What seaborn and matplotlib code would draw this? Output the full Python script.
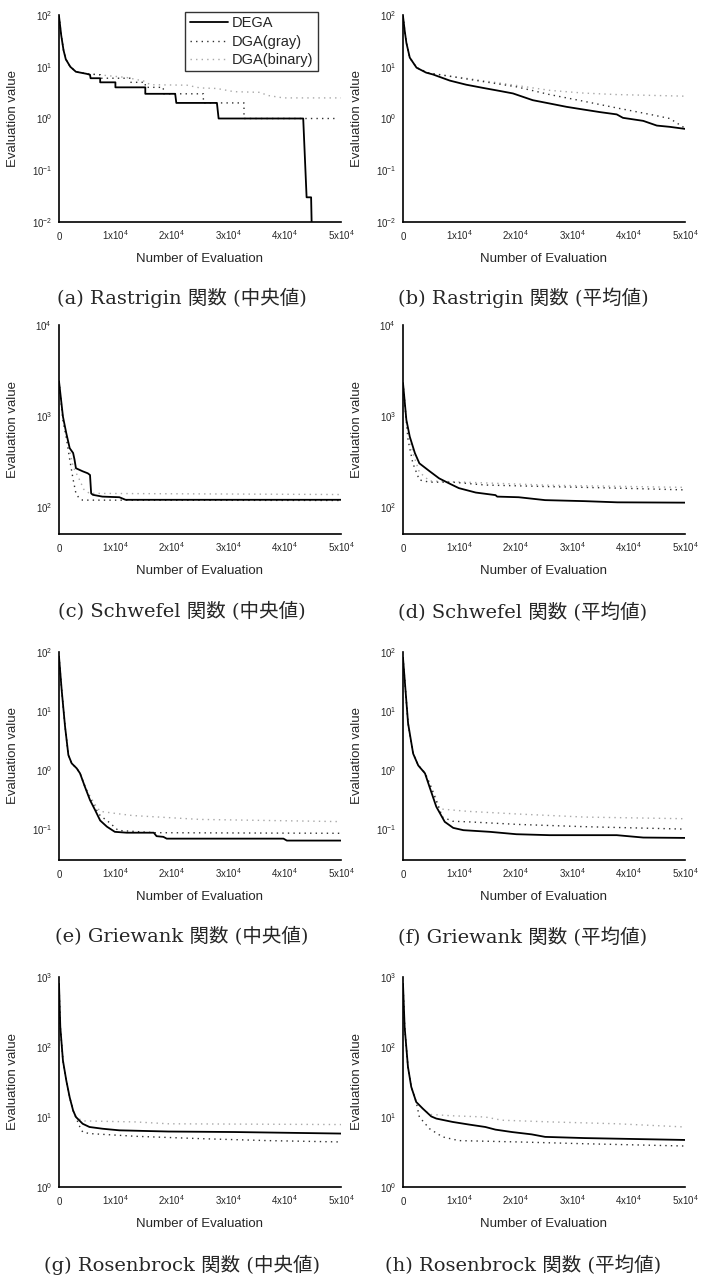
import numpy as np
import matplotlib
matplotlib.use("Agg")
import matplotlib.pyplot as plt
import matplotlib.ticker as mticker
import seaborn as sns

sns.set_style("white")
plt.rcParams['font.family'] = ['Liberation Sans', 'Noto Sans CJK JP']
plt.rcParams['mathtext.default'] = 'regular'
plt.rcParams['axes.unicode_minus'] = False

# (a) Rastrigin median
a_dega_x = [0, 400, 800, 1200, 2000, 3000, 4900, 5500, 5600, 7300, 7300, 10000, 10000, 15300, 15300,
            20600, 20800, 28000, 28300, 43300, 43900, 44200, 44700, 44800]
a_dega_y = [95, 40, 21, 14, 10, 8.0, 7.3, 7.0, 6.0, 6.0, 5.0, 5.0, 4.0, 4.0, 3.0,
            3.0, 2.0, 2.0, 1.0, 1.0, 0.03, 0.03, 0.03, 0.009]
a_gray_x = [0, 400, 800, 1200, 2000, 3000, 4900, 7300, 7300, 12600, 12600, 15300, 15300, 18500, 18500,
            25600, 25600, 32800, 32800, 49300]
a_gray_y = [95, 40, 21, 14, 10, 8.0, 7.3, 7.0, 6.0, 6.0, 5.0, 5.0, 4.0, 4.0, 3.0,
            3.0, 2.0, 2.0, 1.0, 1.0]
a_bin_x = [0, 400, 800, 1200, 2000, 3000, 4900, 7000, 12000, 15000, 16200, 22700, 25000, 28000,
           31000, 35700, 36900, 39800, 50000]
a_bin_y = [95, 40, 21, 14, 10, 8.0, 7.3, 7.0, 6.2, 5.3, 4.5, 4.4, 3.9, 3.8,
           3.3, 3.2, 2.8, 2.5, 2.5]

# (b) Rastrigin mean
b_dega_x = [0, 300, 600, 1200, 2400, 4100, 5300, 8300, 11200, 14200, 17200, 19500, 23000, 26000,
            29000, 32000, 34900, 37900, 39000, 42600, 45000, 47300, 50000]
b_dega_y = [95, 50, 29, 15, 9.6, 7.7, 7.1, 5.4, 4.5, 3.9, 3.4, 3.05, 2.26, 1.95,
            1.68, 1.49, 1.33, 1.2, 1.03, 0.9, 0.73, 0.69, 0.63]
b_gray_x = [0, 300, 600, 1200, 2400, 4500, 20100, 26000, 32000, 37900, 43800, 47300, 50000]
b_gray_y = [95, 50, 29, 15, 9.6, 7.6, 4.1, 2.9, 2.16, 1.6, 1.2, 1.0, 0.65]
b_bin_x = [0, 300, 600, 1200, 2400, 4500, 20100, 26000, 32000, 37900, 50000]
b_bin_y = [95, 50, 29, 15, 9.6, 7.6, 4.35, 3.5, 3.1, 2.9, 2.7]

# (c) Schwefel median
c_dega_x = [0, 700, 1300, 1900, 2500, 2750, 3000, 4200, 5100, 5500, 5700, 6000, 7700, 10700, 11800, 50000]
c_dega_y = [2400, 980, 640, 440, 390, 330, 265, 245, 233, 223, 140, 135, 129, 127, 119, 119]
c_gray_x = [0, 700, 1300, 1900, 2500, 3000, 3600, 4200, 50000]
c_gray_y = [2400, 900, 570, 330, 200, 140, 123, 118, 117]
c_bin_x = [0, 700, 1300, 1900, 2500, 3600, 4400, 5400, 50000]
c_bin_y = [2400, 900, 600, 420, 275, 200, 155, 140, 136]

# (d) Schwefel mean
d_dega_x = [0, 600, 1200, 2100, 2900, 4700, 6400, 8200, 9900, 12900, 16400, 16700, 20500, 25200,
            32200, 38000, 50000]
d_dega_y = [2300, 900, 590, 390, 300, 246, 205, 180, 160, 143, 134, 129, 127, 118,
            115, 111.6, 110.7]
d_gray_x = [0, 600, 900, 1750, 2900, 4700, 8800, 14600, 26300, 38000, 50000]
d_gray_y = [2300, 850, 540, 300, 197, 186, 186, 173, 166, 160, 153]
d_bin_x = [0, 600, 1200, 1750, 2900, 4700, 8800, 26300, 50000]
d_bin_y = [2300, 880, 560, 390, 240, 192, 188, 172, 163]

# (e) Griewank median
e_dega_x = [0, 470, 1070, 1660, 2250, 3140, 3730, 4600, 5500, 6400, 7300, 8500, 9900, 12000,
            16800, 17300, 18500, 19100, 39800, 40400, 50000]
e_dega_y = [84, 23, 5.5, 1.8, 1.3, 1.07, 0.88, 0.52, 0.31, 0.21, 0.14, 0.11, 0.09, 0.087,
            0.087, 0.076, 0.074, 0.069, 0.069, 0.064, 0.064]
e_gray_x = [0, 470, 1070, 1660, 2250, 3140, 3730, 4600, 5500, 6400, 7300, 9000, 10500, 17000, 50000]
e_gray_y = [84, 23, 5.5, 1.8, 1.3, 1.07, 0.88, 0.52, 0.33, 0.23, 0.17, 0.128, 0.095, 0.087, 0.085]
e_bin_x = [0, 470, 1070, 1660, 2250, 3140, 3730, 4600, 5500, 6400, 7300, 9900, 13000, 25000, 50000]
e_bin_y = [84, 23, 5.5, 1.8, 1.3, 1.07, 0.88, 0.55, 0.36, 0.26, 0.2, 0.185, 0.17, 0.146, 0.134]

# (f) Griewank mean
f_dega_x = [0, 300, 900, 1800, 2700, 3900, 4700, 5900, 7400, 8900, 10700, 15400, 20100, 26000,
            37900, 42600, 50000]
f_dega_y = [80, 34, 6.2, 1.9, 1.2, 0.88, 0.52, 0.24, 0.133, 0.105, 0.096, 0.09, 0.082, 0.079,
            0.079, 0.072, 0.071]
f_gray_x = [0, 300, 900, 1800, 2700, 3900, 4700, 5900, 7000, 8800, 11500, 20500, 32200, 50000]
f_gray_y = [80, 34, 6.2, 1.9, 1.2, 0.9, 0.6, 0.3, 0.16, 0.136, 0.133, 0.12, 0.11, 0.10]
f_bin_x = [0, 300, 900, 1800, 2700, 3900, 4700, 5900, 6500, 11500, 20500, 32200, 50000]
f_bin_y = [80, 34, 6.2, 1.9, 1.2, 0.9, 0.6, 0.33, 0.22, 0.2, 0.18, 0.16, 0.15]

# (g) Rosenbrock median
g_dega_x = [0, 230, 700, 1300, 1900, 2500, 3000, 4200, 5400, 7700, 10700, 19400, 31100, 50000]
g_dega_y = [800, 193, 64, 33, 19, 12.4, 10, 8.0, 7.2, 6.8, 6.45, 6.2, 6.1, 5.8]
g_gray_x = [0, 230, 700, 1300, 1900, 2500, 3600, 4200, 5400, 13600, 25300, 37000, 50000]
g_gray_y = [800, 193, 64, 33, 19, 12.4, 7.5, 6.1, 5.8, 5.3, 4.9, 4.6, 4.4]
g_bin_x = [0, 230, 700, 1300, 1900, 2500, 3000, 4200, 13600, 19400, 50000]
g_bin_y = [800, 193, 64, 33, 19, 12.4, 10, 8.8, 8.5, 8.0, 7.8]

# (h) Rosenbrock mean
h_dega_x = [0, 290, 880, 1460, 2340, 3500, 5000, 5900, 8800, 11700, 14600, 16400, 19300, 22800,
            25200, 32200, 50000]
h_dega_y = [800, 193, 52, 27, 16.4, 13.2, 10.2, 9.5, 8.5, 7.8, 7.2, 6.6, 6.1, 5.65,
            5.2, 5.0, 4.7]
h_gray_x = [0, 290, 880, 1460, 2340, 2900, 4700, 7000, 9900, 20500, 32200, 50000]
h_gray_y = [800, 193, 52, 27, 16.4, 10, 6.8, 5.2, 4.6, 4.4, 4.15, 3.85]
h_bin_x = [0, 290, 880, 1460, 2340, 3500, 4700, 8800, 14600, 17500, 26300, 38000, 50000]
h_bin_y = [800, 193, 52, 27, 16.4, 13.2, 10.9, 10.4, 10, 9.0, 8.5, 8.0, 7.2]

series_names = ['DEGA', 'DGA(gray)', 'DGA(binary)']
captions = ['(a) Rastrigin 関数 (中央値)', '(b) Rastrigin 関数 (平均値)',
            '(c) Schwefel 関数 (中央値)', '(d) Schwefel 関数 (平均値)',
            '(e) Griewank 関数 (中央値)', '(f) Griewank 関数 (平均値)',
            '(g) Rosenbrock 関数 (中央値)', '(h) Rosenbrock 関数 (平均値)']
x_ticks = [0, 10000, 20000, 30000, 40000, 50000]
x_ticklabels = ['0', '1x10$^4$', '2x10$^4$', '3x10$^4$', '4x10$^4$', '5x10$^4$']

panels = [
    ((a_dega_x, a_dega_y), (a_gray_x, a_gray_y), (a_bin_x, a_bin_y), (0.01, 100)),
    ((b_dega_x, b_dega_y), (b_gray_x, b_gray_y), (b_bin_x, b_bin_y), (0.01, 100)),
    ((c_dega_x, c_dega_y), (c_gray_x, c_gray_y), (c_bin_x, c_bin_y), (50, 1e4)),
    ((d_dega_x, d_dega_y), (d_gray_x, d_gray_y), (d_bin_x, d_bin_y), (50, 1e4)),
    ((e_dega_x, e_dega_y), (e_gray_x, e_gray_y), (e_bin_x, e_bin_y), (0.03, 100)),
    ((f_dega_x, f_dega_y), (f_gray_x, f_gray_y), (f_bin_x, f_bin_y), (0.03, 100)),
    ((g_dega_x, g_dega_y), (g_gray_x, g_gray_y), (g_bin_x, g_bin_y), (1, 1000)),
    ((h_dega_x, h_dega_y), (h_gray_x, h_gray_y), (h_bin_x, h_bin_y), (1, 1000)),
]

W, H = 701, 1275
fig = plt.figure(figsize=(W / 100, H / 100), dpi=100)

row_top = [15, 325, 652, 977]
row_bot = [222, 534, 860, 1187]
col_left = [59, 403]
ax_w = 282
cap_y = [298, 612, 937, 1265]
cap_x = [182, 523]

styles = [dict(color='black', linewidth=1.3, linestyle='-'),
          dict(color='#303030', linewidth=1.0, linestyle=(0, (1, 3))),
          dict(color='#a8a8a8', linewidth=1.0, linestyle=(0, (1, 3)))]

for i, (dega, gray, binary, ylim) in enumerate(panels):
    r, c = divmod(i, 2)
    ax = fig.add_axes([col_left[c] / W, 1 - row_bot[r] / H, ax_w / W, (row_bot[r] - row_top[r]) / H])
    for (xs, ys), name, st in [(binary, series_names[2], styles[2]),
                               (gray, series_names[1], styles[1]),
                               (dega, series_names[0], styles[0])]:
        sns.lineplot(x=xs, y=ys, ax=ax, estimator=None, sort=False, label=name, **st)
    ax.set_yscale('log')
    ax.set_ylim(*ylim)
    ax.set_xlim(0, 50000)
    ax.set_xticks(x_ticks)
    ax.set_xticklabels(x_ticklabels)
    ax.xaxis.set_minor_locator(mticker.MultipleLocator(2000))
    ax.yaxis.set_minor_formatter(mticker.NullFormatter())
    ax.tick_params(axis='both', which='major', direction='out', length=3, width=0.8,
                   labelsize=7, pad=2, color='black')
    ax.tick_params(axis='both', which='minor', direction='in', length=2, width=0.6, color='black')
    ax.tick_params(axis='x', which='major', pad=10)
    for lab in ax.get_xticklabels():
        lab.set_va('baseline')
    ax.set_xlabel('Number of Evaluation', fontsize=9.5, labelpad=8)
    ax.set_ylabel('Evaluation value', fontsize=9.5)
    ax.yaxis.set_label_coords(-40 / ax_w, 0.5)
    for s in ['top', 'right']:
        ax.spines[s].set_visible(False)
    for s in ['left', 'bottom']:
        ax.spines[s].set_color('black')
        ax.spines[s].set_linewidth(1.2)
    if i == 0:
        h, l = ax.get_legend_handles_labels()
        leg = ax.legend(h[::-1], l[::-1], loc='upper right', bbox_to_anchor=(0.918, 1.015),
                        fontsize=10.5, frameon=True, fancybox=False, handlelength=2.6,
                        borderpad=0.3, labelspacing=0.3, handletextpad=0.3, borderaxespad=0)
        leg.get_frame().set_edgecolor('black')
        leg.get_frame().set_linewidth(1.0)
    else:
        ax.get_legend().remove()
    fig.text(cap_x[c] / W, 1 - cap_y[r] / H, captions[i], ha='center', va='center',
             fontsize=14, family=['DejaVu Serif', 'Noto Sans CJK JP'])

fig.savefig('out.png', dpi=100)
